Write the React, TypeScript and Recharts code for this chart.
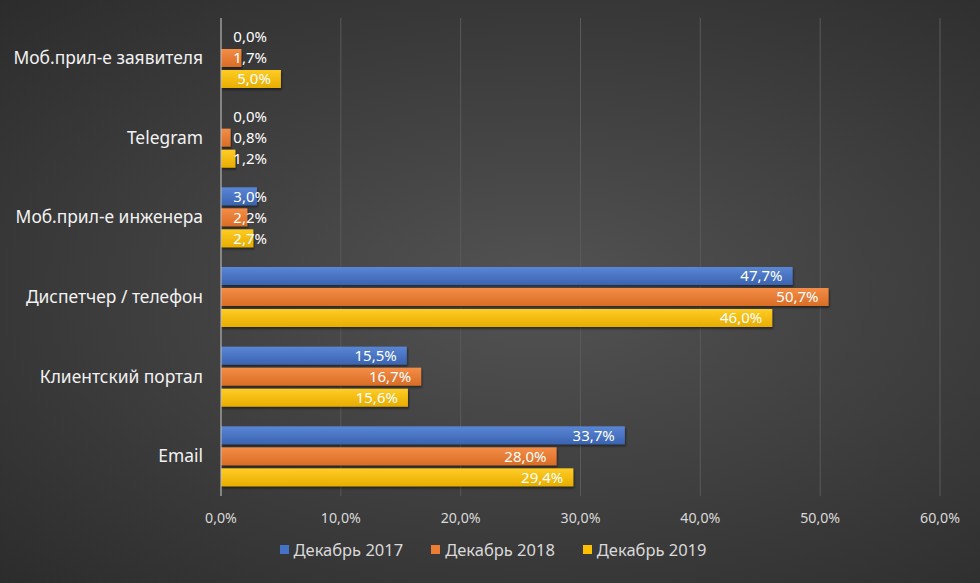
import React from "react";
import {
  Bar,
  BarChart,
  CartesianGrid,
  Legend,
  XAxis,
  YAxis,
} from "recharts";

const categories = [
  "Моб.прил-е заявителя",
  "Telegram",
  "Моб.прил-е инженера",
  "Диспетчер / телефон",
  "Клиентский портал",
  "Email",
];
const dec2017 = [0, 0, 3.0, 47.7, 15.5, 33.7];
const dec2018 = [1.7, 0.8, 2.2, 50.7, 16.7, 28.0];
const dec2019 = [5.0, 1.2, 2.7, 46.0, 15.6, 29.4];
const xTicks = [0, 10, 20, 30, 40, 50, 60];

const series = [
  { key: "y2017", name: "Декабрь 2017", color: "#4472c4", light: "#5a86d6", dark: "#3a63b0" },
  { key: "y2018", name: "Декабрь 2018", color: "#ed7d31", light: "#f48d47", dark: "#d96d25" },
  { key: "y2019", name: "Декабрь 2019", color: "#ffc000", light: "#ffcc26", dark: "#e8ad00" },
];

const data = categories.map((name, i) => ({
  name,
  y2017: dec2017[i],
  y2018: dec2018[i],
  y2019: dec2019[i],
}));

const FONT = "'Noto Sans', 'Open Sans', sans-serif";
const fmt = (v: number) => v.toFixed(1).replace(".", ",") + "%";

// bar + its value label; drawn even when the value is 0 (Excel still shows 0,0%)
function makeShape(key: string) {
  return (props: any) => {
    const { x, y, width, height, value } = props;
    const v = Array.isArray(value) ? value[1] - value[0] : value;
    const w = Math.max(0, width || 0);
    const right = Math.max(x + w - 10, x + 46);
    return (
      <g>
        {w > 0 && (
          <rect
            x={x}
            y={y}
            width={w}
            height={height}
            fill={`url(#g-${key})`}
            filter="url(#shadow)"
          />
        )}
        <text
          x={right}
          y={y + height / 2}
          dy="0.36em"
          textAnchor="end"
          fill="#ffffff"
          fontSize={15}
          fontFamily={FONT}
        >
          {fmt(v)}
        </text>
      </g>
    );
  };
}

function LegendBox() {
  return (
    <div
      style={{
        display: "flex",
        justifyContent: "center",
        gap: 28,
        fontFamily: FONT,
        fontSize: 16.5,
        color: "#d9d9d9",
        paddingLeft: 46,
      }}
    >
      {series.map((s) => (
        <div key={s.key} style={{ display: "flex", alignItems: "center" }}>
          <span
            style={{
              display: "inline-block",
              width: 9,
              height: 9,
              background: s.color,
              marginRight: 5,
            }}
          />
          {s.name}
        </div>
      ))}
    </div>
  );
}

export default function App() {
  return (
    <div
      style={{
        position: "absolute",
        left: 0,
        top: 0,
        width: 980,
        height: 583,
        background:
          "radial-gradient(ellipse at 55% 50%, #535353 0%, #414141 45%, #2c2c2c 100%)",
      }}
    >
      <BarChart
        width={980}
        height={583}
        layout="vertical"
        data={data}
        margin={{ top: 18, right: 40, bottom: 22, left: 0 }}
        barSize={18}
        barGap={3}
      >
        <defs>
          {series.map((s) => (
            <linearGradient key={s.key} id={"g-" + s.key} x1="0" y1="0" x2="0" y2="1">
              <stop offset="0%" stopColor={s.light} />
              <stop offset="100%" stopColor={s.dark} />
            </linearGradient>
          ))}
          <filter id="shadow" x="-5%" y="-20%" width="110%" height="160%">
            <feDropShadow dx="1" dy="2" stdDeviation="1.2" floodColor="#000" floodOpacity="0.45" />
          </filter>
        </defs>
        <CartesianGrid horizontal={false} stroke="#5a5a5a" strokeWidth={1} />
        <XAxis
          type="number"
          domain={[0, 60]}
          ticks={xTicks}
          tickFormatter={fmt}
          axisLine={false}
          tickLine={false}
          tickMargin={11}
          height={42}
          tick={{ fill: "#d9d9d9", fontSize: 14.2, fontFamily: FONT }}
        />
        <YAxis
          type="category"
          dataKey="name"
          width={221}
          axisLine={{ stroke: "#bfbfbf" }}
          tickLine={false}
          tickMargin={12}
          tick={{ fill: "#f2f2f2", fontSize: 17.4, fontFamily: FONT }}
        />
        {series.map((s) => (
          <Bar
            key={s.key}
            dataKey={s.key}
            name={s.name}
            fill={s.color}
            shape={makeShape(s.key)}
            isAnimationActive={false}
          />
        ))}
        <Legend verticalAlign="bottom" content={LegendBox} />
      </BarChart>
    </div>
  );
}
